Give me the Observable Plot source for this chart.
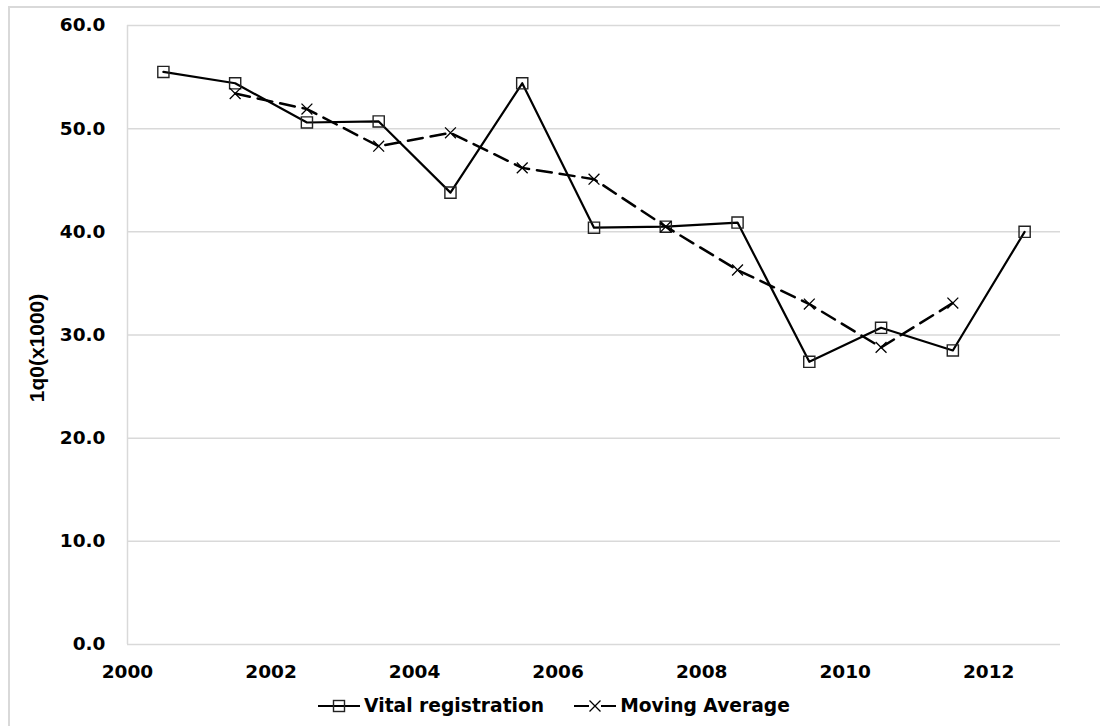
<!DOCTYPE html>
<html>
<head>
<meta charset="utf-8">
<script src="https://cdn.jsdelivr.net/npm/d3@7"></script>
<script src="https://cdn.jsdelivr.net/npm/@observablehq/plot@0.6"></script>
<style>
  html, body { margin: 0; padding: 0; background: #fff; }
  #wrap { position: relative; width: 1100px; height: 726px; overflow: hidden; font-family: "DejaVu Sans", sans-serif; font-weight: bold; }
  #frame { position: absolute; left: 8px; top: 6px; width: 1200px; height: 900px; border-top: 2px solid #d9d9d9; border-left: 2px solid #d9d9d9; pointer-events: none; }
  #legend { position: absolute; left: 4px; top: 695px; width: 1100px; display: flex; justify-content: center; align-items: center; gap: 30px; font-size: 18.7px; color: #000; }
  .item { display: flex; align-items: center; gap: 4px; }
  .item svg { display: block; }
</style>
</head>
<body>
<div id="wrap">
  <div id="chart"></div>
  <div id="legend"></div>
  <div id="frame"></div>
</div>
<script>
const years = [2000.5, 2001.5, 2002.5, 2003.5, 2004.5, 2005.5, 2006.5, 2007.5, 2008.5, 2009.5, 2010.5, 2011.5, 2012.5];
const vitalRegistration = [55.5, 54.4, 50.6, 50.7, 43.8, 54.4, 40.4, 40.5, 40.9, 27.4, 30.7, 28.5, 40.0];
const maYears = [2001.5, 2002.5, 2003.5, 2004.5, 2005.5, 2006.5, 2007.5, 2008.5, 2009.5, 2010.5, 2011.5];
const movingAverage = [53.4, 51.9, 48.3, 49.6, 46.2, 45.1, 40.5, 36.3, 33.0, 28.8, 33.1];
const xTicks = [2000, 2002, 2004, 2006, 2008, 2010, 2012];
const yTicks = [0, 10, 20, 30, 40, 50, 60];
const seriesNames = ["Vital registration", "Moving Average"];
const yTitle = "1q0(x1000)";

const vr = years.map((x, i) => ({x, y: vitalRegistration[i]}));
const ma = maYears.map((x, i) => ({x, y: movingAverage[i]}));

const plot = Plot.plot({
  width: 1100,
  height: 690,
  marginLeft: 127,
  marginRight: 40,
  marginTop: 25,
  marginBottom: 46,
  style: { fontFamily: "DejaVu Sans, sans-serif", fontWeight: "bold", fontSize: "18px", color: "#000", background: "transparent" },
  x: { domain: [2000, 2013], label: null },
  y: { domain: [0, 60], label: null },
  marks: [
    Plot.gridY(yTicks, { stroke: "#d9d9d9", strokeOpacity: 1, strokeWidth: 1.5 }),
    Plot.ruleX([2000], { stroke: "#d9d9d9", strokeWidth: 1.5 }),
    Plot.axisY(yTicks, { tickSize: 0, tickPadding: 22, tickFormat: d3.format(".1f"), fontSize: 18.5, fontWeight: "bold", label: null }),
    Plot.axisX(xTicks, { tickSize: 0, tickPadding: 20, tickFormat: d => String(d), fontSize: 18.5, fontWeight: "bold", label: null }),
    Plot.text([yTitle], { frameAnchor: "left", textAnchor: "middle", dx: -90, dy: 13, rotate: -90, fontSize: 21, fontWeight: "bold", fontFamily: "Liberation Sans, Arial, sans-serif", fill: "#000" }),
    Plot.line(vr, { x: "x", y: "y", stroke: "#000", strokeWidth: 2.2 }),
    Plot.dot(vr, { x: "x", y: "y", symbol: "square", r: 6.3, stroke: "#222", strokeWidth: 1.4, fill: "none" }),
    Plot.line(ma, { x: "x", y: "y", stroke: "#000", strokeWidth: 2.5, strokeDasharray: "15,8" }),
    Plot.dot(ma, { x: "x", y: "y", symbol: "times", r: 5, stroke: "#000", strokeWidth: 1.3 })
  ]
});
document.getElementById("chart").appendChild(plot);

// legend
const legend = d3.select("#legend");
seriesNames.forEach((name, i) => {
  const item = legend.append("div").attr("class", "item");
  const s = item.append("svg").attr("width", 42).attr("height", 20);
  s.append("line").attr("x1", 0).attr("x2", 42).attr("y1", 10).attr("y2", 10).attr("stroke", "#000").attr("stroke-width", 2);
  if (i === 0) {
    s.append("rect").attr("x", 15.5).attr("y", 4.5).attr("width", 11).attr("height", 11).attr("fill", "none").attr("stroke", "#222").attr("stroke-width", 1.4);
  } else {
    s.append("rect").attr("x", 15).attr("y", 6).attr("width", 12).attr("height", 8).attr("fill", "#fff");
    s.append("path").attr("d", "M15.5,4.5L26.5,15.5M15.5,15.5L26.5,4.5").attr("stroke", "#000").attr("stroke-width", 1.3);
  }
  item.append("span").text(name);
});
</script>
</body>
</html>
